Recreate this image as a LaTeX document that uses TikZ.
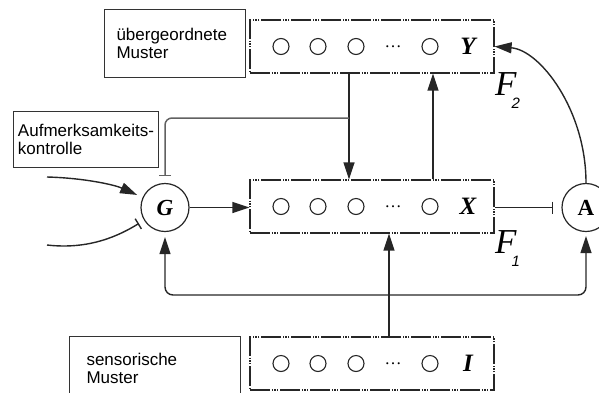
\documentclass[tikz,border=0pt]{standalone}
\usepackage{fontspec}
\setmainfont{Liberation Sans}
\newfontfamily\seriffont{Liberation Serif}
\usetikzlibrary{arrows.meta,calc}
\hyphenpenalty=10000
\exhyphenpenalty=10000
\begin{document}
\begin{tikzpicture}[x=1pt,y=-1pt,
  conn/.style={line width=1.4pt, draw=black!85},
  tip/.tip={Triangle[length=17pt,width=11pt]},
  arr/.style={conn,-tip},
  inh/.style={conn,-{Bar[width=12pt,line width=1.4pt]}},
  layer/.style={draw=black!85, line width=1.2pt,
    dash pattern=on 20pt off 1.6pt on 1.2pt off 1.6pt on 1.2pt off 1.6pt on 1.2pt off 1.6pt,
    minimum width=244pt, minimum height=53pt, inner sep=0pt},
  unit/.style={circle, draw=black!85, line width=1.1pt, minimum size=16pt, inner sep=0pt},
  dotsn/.style={inner sep=0pt, font=\seriffont\fontsize{17}{17}\selectfont},
  vlab/.style={inner sep=0pt, font=\seriffont\bfseries\itshape\fontsize{25}{25}\selectfont},
  lbl/.style={draw=black!80, line width=1pt, align=left, inner sep=0pt,
    font=\fontsize{17}{18.5}\selectfont},
  gate/.style={circle, draw=black!85, line width=1.2pt, minimum size=48pt, inner sep=0pt,
    font=\seriffont\bfseries\fontsize{23}{23}\selectfont},
  flab/.style={inner sep=0pt, anchor=base west},
]
\useasboundingbox (0,0) rectangle (599,392);
\clip (0,0) rectangle (599,392);

% layers
\node[layer] (Y) at (372,46.5) {};
\node[layer] (X) at (372,206.5) {};
\node[layer] (I) at (372,363.5) {};
\foreach \L/\yy in {Y/46.5, X/206.5, I/363.5}{
  \node[unit] (\L u1) at (281,\yy) {};
  \node[unit] (\L u2) at (318,\yy) {};
  \node[unit] (\L u3) at (356,\yy) {};
  \node[dotsn] (\L d) at (393,\yy) {\dots};
  \node[unit] (\L u4) at (430,\yy) {};
  \node[vlab] (\L l) at (468,\yy) {\L};
}

% gates
\node[gate] (G) at (165,207.5) {\itshape G};
\node[gate] (A) at (586,207.5) {A};

% F labels
\node[flab] (F2) at (495,95) {{\seriffont\itshape\fontsize{35}{35}\selectfont F}\kern-5pt\raisebox{-13pt}{\fontsize{15}{15}\selectfont\itshape 2}};
\node[flab] (F1) at (495,253) {{\seriffont\itshape\fontsize{35}{35}\selectfont F}\kern-5pt\raisebox{-13pt}{\fontsize{15}{15}\selectfont\itshape 1}};

% label boxes
\node[lbl, anchor=north west, minimum width=141pt, minimum height=68pt, text width=117pt] (ub) at (104,9) {übergeordnete\\Muster};
\node[lbl, anchor=north west, minimum width=145pt, minimum height=56pt] (au) at (13,111) {Aufmerksamkeits-\\kontrolle};
\node[lbl, anchor=north west, minimum width=171pt, minimum height=64pt, text width=137pt] (se) at (69,336) {sensorische\\Muster};

% helper coordinates
\coordinate (c1) at (349,0);
\coordinate (c2) at (433,0);
\coordinate (c3) at (389,0);
\coordinate (h1) at (0,118);
\coordinate (fb) at (0,295);
\coordinate (j1) at (c1 |- h1);
\coordinate (in1) at (47,177);
\coordinate (in2) at (47,245);

% connectors
\draw[arr] (Y.south -| c1) -- (X.north -| c1);
\draw[arr] (X.north -| c2) -- (Y.south -| c2);
\draw[arr] (I.north -| c3) -- (X.south -| c3);
\draw[inh, draw=black!62, line width=1.5pt, rounded corners=7pt, shorten >=7pt] (j1) -- (G |- h1) -- (G);
\draw[arr, shorten >=6pt] (in1) .. controls (85,178) and (115,185) .. (G);
\draw[inh, shorten >=6pt] (in2) .. controls (90,250) and (120,235) .. (G);
\draw[arr] (G) -- (X.west |- G);
\draw[inh, shorten >=8pt] (X.east |- A) -- (A);
\draw[arr] (A) .. controls (586,110) and (540,50) .. (Y.east);
\draw[conn, tip-tip, rounded corners=8pt, shorten <=5pt, shorten >=4pt] (G) -- (G |- fb) -- (A |- fb) -- (A);
\end{tikzpicture}
\end{document}
